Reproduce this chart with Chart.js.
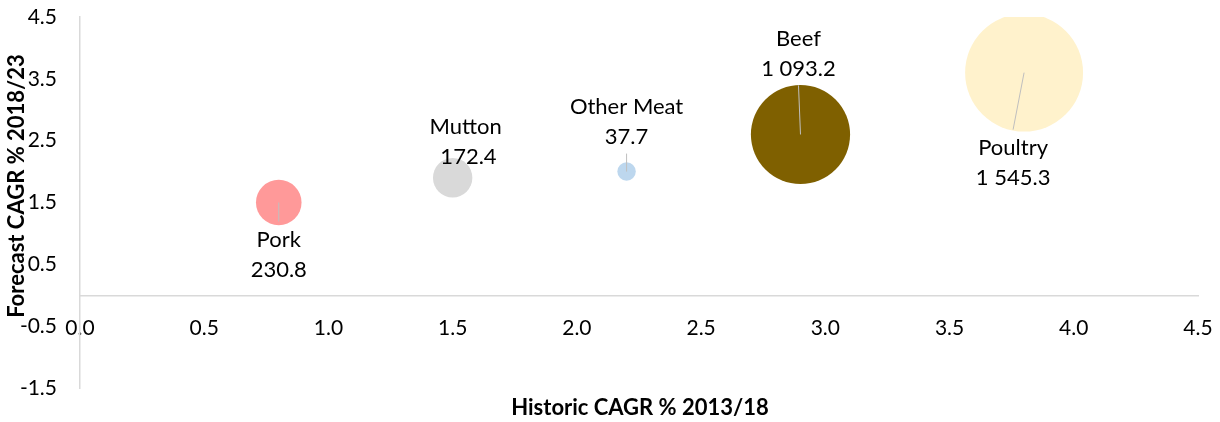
<!DOCTYPE html>
<html>
<head>
<meta charset="utf-8">
<script src="https://cdn.jsdelivr.net/npm/chart.js@4"></script>
<style>
  body { margin: 0; background: #fff; }
  #wrap { width: 1220px; height: 422px; position: relative; }
</style>
</head>
<body>
<div id="wrap"><canvas id="meatChart"></canvas></div>
<script>
// chart values
const categories = ['Pork', 'Mutton', 'Other Meat', 'Beef', 'Poultry'];
const historicCagr = [0.8, 1.5, 2.2, 2.9, 3.8];
const forecastCagr = [1.5, 1.9, 2.0, 2.6, 3.6];
const volumes = [230.8, 172.4, 37.7, 1093.2, 1545.3];
const volumeLabels = ['230.8', ' 172.4', '37.7', '1 093.2', '1 545.3'];
const xTicks = [0, 0.5, 1, 1.5, 2, 2.5, 3, 3.5, 4, 4.5];
const yTicks = [-1.5, -0.5, 0.5, 1.5, 2.5, 3.5, 4.5];
const xTitle = 'Historic CAGR % 2013/18';
const yTitle = 'Forecast CAGR % 2018/23';

// styling
const colors = ['#FF9999', '#D9D9D9', '#BDD7EE', '#7F6000', '#FFF2CC'];
const bubbleScale = 1.5; // px radius per sqrt(volume)
// label offset from bubble centre: dx, dy of first line, side of bubble
const labelPlacement = [
  { dx: 0, dy: 37, below: true, line: true },
  { dx: 13, dy: -51, below: false, line: false },
  { dx: 0, dy: -65, below: false, line: true },
  { dx: -2, dy: -96, below: false, line: true },
  { dx: -11, dy: 75, below: true, line: true }
];
const FONT = 'Lato, "Open Sans", sans-serif';

const bubbleLabels = {
  id: 'bubbleLabels',
  afterDatasetsDraw(chart) {
    const ctx = chart.ctx;
    chart.data.datasets.forEach((ds, i) => {
      const el = chart.getDatasetMeta(i).data[0];
      const p = labelPlacement[i];
      const lx = el.x + p.dx;
      const ly = el.y + p.dy;
      const lineGap = 30;
      ctx.save();
      if (p.line) {
        ctx.strokeStyle = '#BFBFBF';
        ctx.lineWidth = 1;
        ctx.beginPath();
        ctx.moveTo(el.x, el.y);
        ctx.lineTo(lx, p.below ? ly - 18 : ly + lineGap + 17);
        ctx.stroke();
      }
      ctx.fillStyle = '#000';
      ctx.font = '22px ' + FONT;
      ctx.textAlign = 'center';
      ctx.textBaseline = 'middle';
      ctx.fillText(categories[i], lx, ly);
      ctx.fillText(volumeLabels[i], lx, ly + lineGap);
      ctx.restore();
    });
  }
};

// axis titles, placed like the spreadsheet did
const axisTitles = {
  id: 'axisTitles',
  afterDraw(chart) {
    const ctx = chart.ctx;
    ctx.save();
    ctx.fillStyle = '#000';
    ctx.font = 'bold 22px ' + FONT;
    ctx.textAlign = 'center';
    ctx.textBaseline = 'middle';
    ctx.fillText(xTitle, 640, 408);
    ctx.translate(17, 186);
    ctx.rotate(-Math.PI / 2);
    ctx.fillText(yTitle, 0, 0);
    ctx.restore();
  }
};

const datasets = categories.map((name, i) => ({
  label: name,
  data: [{ x: historicCagr[i], y: forecastCagr[i], r: bubbleScale * Math.sqrt(volumes[i]) }],
  backgroundColor: colors[i],
  borderWidth: 0,
  clip: 0
}));

new Chart(document.getElementById('meatChart'), {
  type: 'bubble',
  data: { datasets },
  plugins: [bubbleLabels, axisTitles],
  options: {
    responsive: true,
    maintainAspectRatio: false,
    animation: false,
    events: [],
    layout: { autoPadding: false, padding: { top: 17, right: 22, bottom: 34, left: 0 } },
    plugins: { legend: { display: false }, tooltip: { enabled: false } },
    scales: {
      x: {
        type: 'linear',
        position: { y: 0 },
        min: 0,
        max: 4.5,
        grid: { display: false, drawTicks: false },
        border: { display: true, color: '#D9D9D9', width: 1.5 },
        afterBuildTicks: (scale) => { scale.ticks = xTicks.map(v => ({ value: v })); },
        afterFit: (scale) => { scale.paddingLeft = 0; scale.paddingRight = 0; },
        ticks: {
          padding: 20,
          color: '#000',
          font: { family: FONT, size: 21 },
          maxRotation: 0,
          autoSkip: false,
          callback: (v) => Number(v).toFixed(1)
        }
      },
      y: {
        type: 'linear',
        position: 'left',
        min: -1.5,
        max: 4.5,
        grid: { display: false, drawTicks: false },
        border: { display: true, color: '#D9D9D9', width: 1.5 },
        afterBuildTicks: (scale) => { scale.ticks = yTicks.map(v => ({ value: v })); },
        afterFit: (scale) => {
          scale.width = 80;
          scale.paddingTop = 0;
          scale.paddingBottom = 0;
        },
        ticks: {
          padding: 23,
          color: '#000',
          font: { family: FONT, size: 21 },
          autoSkip: false,
          callback: (v) => Number(v).toFixed(1)
        }
      }
    }
  }
});
</script>
</body>
</html>
